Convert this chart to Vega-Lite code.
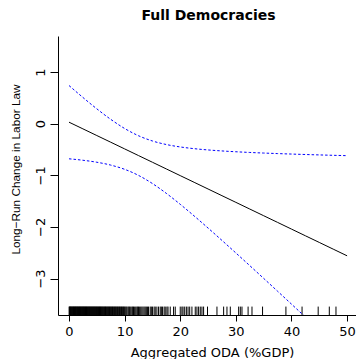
{
  "$schema": "https://vega.github.io/schema/vega-lite/v6.json",
  "width": 298,
  "height": 279,
  "autosize": "none",
  "padding": {"left": 58, "top": 36, "right": 0, "bottom": 44},
  "background": "white",
  "config": {
    "view": {"stroke": null},
    "axis": {
      "domainColor": "black",
      "domainWidth": 1,
      "tickColor": "black",
      "tickWidth": 1,
      "grid": false,
      "labelFont": "DejaVu Sans",
      "labelFontSize": 13,
      "labelColor": "black",
      "titleColor": "black",
      "titleFontWeight": "normal"
    }
  },
  "title": {
    "text": "Full Democracies",
    "font": "DejaVu Sans",
    "fontSize": 14,
    "fontWeight": "bold",
    "color": "black",
    "baseline": "alphabetic",
    "offset": 2,
    "dx": 1.5
  },
  "datasets": {
    "fit": [
      {"x": 0, "fit": 0.03, "upper": 0.74, "lower": -0.68},
      {"x": 2.5, "fit": -0.0995, "upper": 0.509, "lower": -0.708},
      {"x": 5, "fit": -0.229, "upper": 0.2885, "lower": -0.7465},
      {"x": 7.5, "fit": -0.3585, "upper": 0.0848, "lower": -0.8018},
      {"x": 10, "fit": -0.488, "upper": -0.0924, "lower": -0.8836},
      {"x": 12.5, "fit": -0.6175, "upper": -0.2331, "lower": -1.0019},
      {"x": 15, "fit": -0.747, "upper": -0.3344, "lower": -1.1596},
      {"x": 17.5, "fit": -0.8765, "upper": -0.4032, "lower": -1.3498},
      {"x": 20, "fit": -1.006, "upper": -0.4501, "lower": -1.5619},
      {"x": 22.5, "fit": -1.1355, "upper": -0.4834, "lower": -1.7876},
      {"x": 25, "fit": -1.265, "upper": -0.5082, "lower": -2.0218},
      {"x": 27.5, "fit": -1.3945, "upper": -0.5276, "lower": -2.2614},
      {"x": 30, "fit": -1.524, "upper": -0.5434, "lower": -2.5046},
      {"x": 32.5, "fit": -1.6535, "upper": -0.5568, "lower": -2.7502},
      {"x": 35, "fit": -1.783, "upper": -0.5684, "lower": -2.9976},
      {"x": 37.5, "fit": -1.9125, "upper": -0.5787, "lower": -3.2463},
      {"x": 40, "fit": -2.042, "upper": -0.588, "lower": -3.496},
      {"x": 42.5, "fit": -2.1715, "upper": -0.5966, "lower": -3.7464},
      {"x": 45, "fit": -2.301, "upper": -0.6046, "lower": -3.9974},
      {"x": 47.5, "fit": -2.4305, "upper": -0.6121, "lower": -4.2489},
      {"x": 50, "fit": -2.56, "upper": -0.6192, "lower": -4.5008}
    ],
    "rug": [
      {"oda": 0.02}, {"oda": 0.1}, {"oda": 0.18}, {"oda": 0.25}, {"oda": 0.33}, {"oda": 0.41}, {"oda": 0.5}, {"oda": 0.57}, {"oda": 0.66}, {"oda": 0.74},
      {"oda": 0.82}, {"oda": 0.9}, {"oda": 0.98}, {"oda": 1.07}, {"oda": 1.15}, {"oda": 1.23}, {"oda": 1.3}, {"oda": 1.39}, {"oda": 1.47}, {"oda": 1.55},
      {"oda": 1.63}, {"oda": 1.72}, {"oda": 1.8}, {"oda": 1.88}, {"oda": 1.96}, {"oda": 2.05}, {"oda": 2.13}, {"oda": 2.21}, {"oda": 2.3}, {"oda": 2.38},
      {"oda": 2.46}, {"oda": 2.55}, {"oda": 2.63}, {"oda": 2.71}, {"oda": 2.8}, {"oda": 2.88}, {"oda": 2.97}, {"oda": 3.05}, {"oda": 3.14}, {"oda": 3.22},
      {"oda": 3.31}, {"oda": 3.4}, {"oda": 3.48}, {"oda": 3.57}, {"oda": 3.66}, {"oda": 3.74}, {"oda": 3.83}, {"oda": 3.92}, {"oda": 4.01}, {"oda": 4.1},
      {"oda": 4.19}, {"oda": 4.28}, {"oda": 4.37}, {"oda": 4.46}, {"oda": 4.55}, {"oda": 4.64}, {"oda": 4.73}, {"oda": 4.82}, {"oda": 4.92}, {"oda": 5.01},
      {"oda": 5.1}, {"oda": 5.2}, {"oda": 5.29}, {"oda": 5.39}, {"oda": 5.48}, {"oda": 5.58}, {"oda": 5.67}, {"oda": 5.77}, {"oda": 5.87}, {"oda": 5.96},
      {"oda": 6.06}, {"oda": 6.16}, {"oda": 6.26}, {"oda": 6.36}, {"oda": 6.46}, {"oda": 6.56}, {"oda": 6.66}, {"oda": 6.77}, {"oda": 6.87}, {"oda": 6.97},
      {"oda": 7.08}, {"oda": 7.18}, {"oda": 7.29}, {"oda": 7.4}, {"oda": 7.5}, {"oda": 7.61}, {"oda": 7.72}, {"oda": 7.83}, {"oda": 7.94}, {"oda": 8.05},
      {"oda": 8.16}, {"oda": 8.28}, {"oda": 8.39}, {"oda": 8.5}, {"oda": 8.62}, {"oda": 8.74}, {"oda": 8.85}, {"oda": 8.97}, {"oda": 9.09}, {"oda": 9.21},
      {"oda": 9.33}, {"oda": 9.45}, {"oda": 9.58}, {"oda": 9.7}, {"oda": 9.82}, {"oda": 9.95}, {"oda": 10.1}, {"oda": 10.25}, {"oda": 10.4}, {"oda": 10.6},
      {"oda": 10.75}, {"oda": 10.9}, {"oda": 11.1}, {"oda": 11.3}, {"oda": 11.45}, {"oda": 11.6}, {"oda": 11.8}, {"oda": 12.0}, {"oda": 12.2}, {"oda": 12.35},
      {"oda": 12.5}, {"oda": 12.7}, {"oda": 12.9}, {"oda": 13.1}, {"oda": 13.3}, {"oda": 13.5}, {"oda": 13.7}, {"oda": 13.9}, {"oda": 14.1}, {"oda": 14.3},
      {"oda": 14.6}, {"oda": 14.8}, {"oda": 15.0}, {"oda": 15.3}, {"oda": 15.5}, {"oda": 15.8}, {"oda": 16.1}, {"oda": 16.4}, {"oda": 16.6}, {"oda": 16.8},
      {"oda": 17.1}, {"oda": 17.3}, {"oda": 17.6}, {"oda": 17.8}, {"oda": 18.2}, {"oda": 18.8}, {"oda": 19.1}, {"oda": 20.0}, {"oda": 20.3}, {"oda": 20.5},
      {"oda": 20.8}, {"oda": 21.1}, {"oda": 21.4}, {"oda": 21.7}, {"oda": 22.1}, {"oda": 22.7}, {"oda": 23.0}, {"oda": 23.3}, {"oda": 23.6}, {"oda": 23.9},
      {"oda": 24.2}, {"oda": 24.9}, {"oda": 26.6}, {"oda": 27.8}, {"oda": 28.4}, {"oda": 29.0}, {"oda": 30.5}, {"oda": 30.8}, {"oda": 31.1}, {"oda": 32.2},
      {"oda": 32.9}, {"oda": 34.8}, {"oda": 39.0}, {"oda": 41.9}, {"oda": 44.8}, {"oda": 46.8}, {"oda": 48.0}
    ]
  },
  "layer": [
    {
      "data": {"name": "rug"},
      "mark": {"type": "rule", "color": "black", "strokeWidth": 1},
      "encoding": {
        "x": {
          "field": "oda",
          "type": "quantitative",
          "scale": {"domain": [-1.98, 51.6], "nice": false, "zero": false},
          "axis": {
            "values": [0, 10, 20, 30, 40, 50],
            "tickSize": 6,
            "labelPadding": 14,
            "labelBaseline": "alphabetic",
            "title": "Aggregated ODA (%GDP)",
            "titleFont": "DejaVu Sans",
            "titleFontSize": 13,
            "titleBaseline": "alphabetic",
            "titleX": 154,
            "titleY": 41.5
          }
        },
        "y": {
          "datum": -3.707,
          "type": "quantitative",
          "scale": {"domain": [-3.707, 1.7], "nice": false, "zero": false},
          "axis": {
            "values": [-3, -2, -1, 0, 1],
            "tickSize": 8,
            "labelPadding": 5.2,
            "labelAngle": 270,
            "labelAlign": "center",
            "labelBaseline": "alphabetic",
            "title": "Long−Run Change in Labor Law",
            "titleFont": "Liberation Sans",
            "titleFontSize": 11.8,
            "titleAngle": 270,
            "titleAlign": "center",
            "titleBaseline": "alphabetic",
            "titleX": -38.7,
            "titleY": 133
          }
        },
        "y2": {"datum": -3.544}
      }
    },
    {
      "mark": {"type": "rule", "color": "black", "strokeWidth": 1},
      "encoding": {"y": {"datum": 1.7, "type": "quantitative"}}
    },
    {
      "mark": {"type": "rule", "color": "#333333", "strokeWidth": 1, "strokeDash": [3, 1.5, 1, 1.5]},
      "encoding": {"y": {"datum": 0, "type": "quantitative"}}
    },
    {
      "data": {"name": "fit"},
      "mark": {"type": "line", "color": "black", "strokeWidth": 1},
      "encoding": {
        "x": {"field": "x", "type": "quantitative"},
        "y": {"field": "fit", "type": "quantitative"}
      }
    },
    {
      "data": {"name": "fit"},
      "mark": {"type": "line", "color": "blue", "strokeWidth": 1, "strokeDash": [2.5, 2], "interpolate": "monotone", "clip": true},
      "encoding": {
        "x": {"field": "x", "type": "quantitative"},
        "y": {"field": "upper", "type": "quantitative"}
      }
    },
    {
      "data": {"name": "fit"},
      "mark": {"type": "line", "color": "blue", "strokeWidth": 1, "strokeDash": [2.5, 2], "interpolate": "monotone", "clip": true},
      "encoding": {
        "x": {"field": "x", "type": "quantitative"},
        "y": {"field": "lower", "type": "quantitative"}
      }
    }
  ]
}
